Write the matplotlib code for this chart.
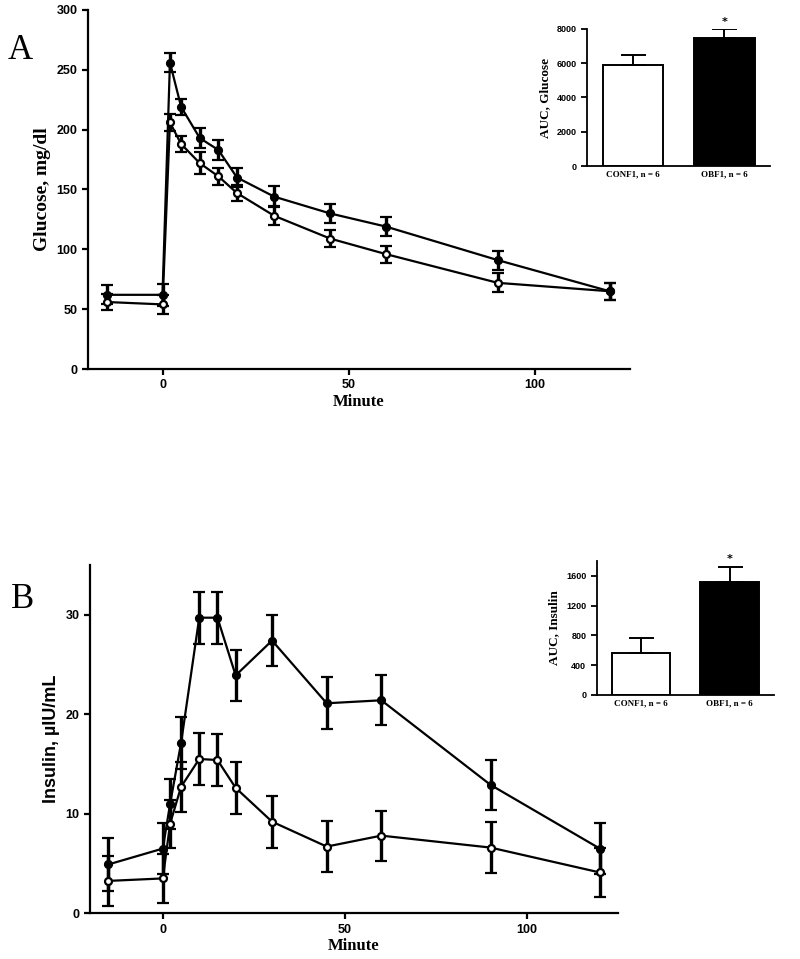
# OGTT glucose / insulin curves with AUC insets

import matplotlib.pyplot as plt

minutes = [-15, 0, 2, 5, 10, 15, 20, 30, 45, 60, 90, 120]

glucose_ob = [62, 62, 256, 219, 193, 183, 160, 144, 130, 119, 91, 65]
glucose_ob_err = [8, 9, 8, 7, 8, 8, 8, 9, 8, 8, 8, 7]
glucose_con = [56, 54, 206, 188, 172, 161, 147, 128, 109, 96, 72, 65]
glucose_con_err = [7, 8, 7, 7, 9, 7, 7, 8, 7, 7, 8, 7]

insulin_ob = [4.9, 6.5, 11.0, 17.1, 29.7, 29.7, 23.9, 27.4, 21.1, 21.4, 12.9, 6.5]
insulin_ob_err = [2.7, 2.6, 2.5, 2.6, 2.6, 2.6, 2.6, 2.6, 2.6, 2.5, 2.5, 2.6]
insulin_con = [3.25, 3.5, 9.0, 12.7, 15.5, 15.4, 12.6, 9.2, 6.7, 7.8, 6.6, 4.1]
insulin_con_err = [2.5, 2.5, 2.4, 2.5, 2.6, 2.6, 2.6, 2.6, 2.6, 2.5, 2.6, 2.5]

groups = ['CONF1, n = 6', 'OBF1, n = 6']
auc_glucose = [5900, 7490]
auc_glucose_err = [580, 490]
auc_insulin = [569, 1523]
auc_insulin_err = [200, 195]

SERIF = 'Liberation Serif'
SANS = 'Liberation Sans'


def style_axes(ax, lw=1.6, tick_size=9):
    for side in ['top', 'right']:
        ax.spines[side].set_visible(False)
    for side in ['left', 'bottom']:
        ax.spines[side].set_linewidth(lw)
    ax.tick_params(width=lw, length=4, labelsize=tick_size, direction='out')
    for lab in ax.get_xticklabels() + ax.get_yticklabels():
        lab.set_fontfamily(SANS)
        lab.set_fontweight('bold')


def curve(ax, y, err, filled):
    ax.errorbar(minutes, y, yerr=err, color='black', lw=1.6, elinewidth=2.4,
                capsize=4.5, capthick=2.4, marker='o', markersize=5,
                markerfacecolor='black' if filled else 'white',
                markeredgecolor='black', markeredgewidth=1.6, zorder=3)


def auc_inset(ax, vals, errs, ylim, yticks, ylabel):
    x = [0, 1]
    ax.bar(x, vals, width=0.66, color=['white', 'black'], edgecolor='black',
           linewidth=1.4, zorder=2)
    for xi, v, e in zip(x, vals, errs):
        ax.errorbar([xi], [v], yerr=[[0], [e]], color='black', lw=1.4,
                    capsize=9, capthick=1.4)
    ax.text(1, vals[1] + errs[1] + ylim[1] * 0.02, '*', ha='center', va='bottom',
            fontsize=8, fontweight='bold')
    ax.set_xlim(-0.5, 1.5)
    ax.set_ylim(*ylim)
    ax.set_yticks(yticks)
    ax.set_xticks(x)
    ax.set_xticklabels(groups, fontfamily=SERIF, fontweight='bold', fontsize=7)
    ax.set_ylabel(ylabel, fontfamily=SERIF, fontweight='bold', fontsize=9.5)
    style_axes(ax, lw=1.3, tick_size=6.5)
    ax.tick_params(axis='x', length=0)
    for lab in ax.get_xticklabels():
        lab.set_fontfamily(SERIF)


fig = plt.figure(figsize=(8, 9.59), dpi=100)

# Panel A
axA = fig.add_axes([0.11, 0.6152, 0.6775, 0.3744])
curve(axA, glucose_con, glucose_con_err, filled=False)
curve(axA, glucose_ob, glucose_ob_err, filled=True)
axA.set_xlim(-20, 125.5)
axA.set_ylim(0, 300)
axA.set_xticks([0, 50, 100])
axA.set_yticks(range(0, 301, 50))
axA.set_xlabel('Minute', fontfamily=SERIF, fontweight='bold', fontsize=12, labelpad=2)
axA.set_ylabel('Glucose, mg/dl', fontfamily=SERIF, fontweight='bold', fontsize=14)
style_axes(axA)
fig.text(0.009, 0.9385, 'A', fontfamily=SERIF, fontsize=25)

insA = fig.add_axes([0.7338, 0.8269, 0.2288, 0.1429])
auc_inset(insA, auc_glucose, auc_glucose_err, (0, 8000), range(0, 8001, 2000),
          'AUC, Glucose')

# Panel B
axB = fig.add_axes([0.1125, 0.0477, 0.66, 0.3632])
curve(axB, insulin_con, insulin_con_err, filled=False)
curve(axB, insulin_ob, insulin_ob_err, filled=True)
axB.set_xlim(-20, 125)
axB.set_ylim(0, 35)
axB.set_xticks([0, 50, 100])
axB.set_yticks([0, 10, 20, 30])
axB.set_xlabel('Minute', fontfamily=SERIF, fontweight='bold', fontsize=12, labelpad=2)
axB.set_ylabel('Insulin, µIU/mL', fontfamily=SANS, fontweight='bold', fontsize=13)
style_axes(axB)
fig.text(0.014, 0.366, 'B', fontfamily=SERIF, fontsize=25)

insB = fig.add_axes([0.7459, 0.2753, 0.2216, 0.1397])
auc_inset(insB, auc_insulin, auc_insulin_err, (0, 1800), range(0, 1601, 400),
          'AUC, Insulin')

fig.savefig('out.png', dpi=100)
